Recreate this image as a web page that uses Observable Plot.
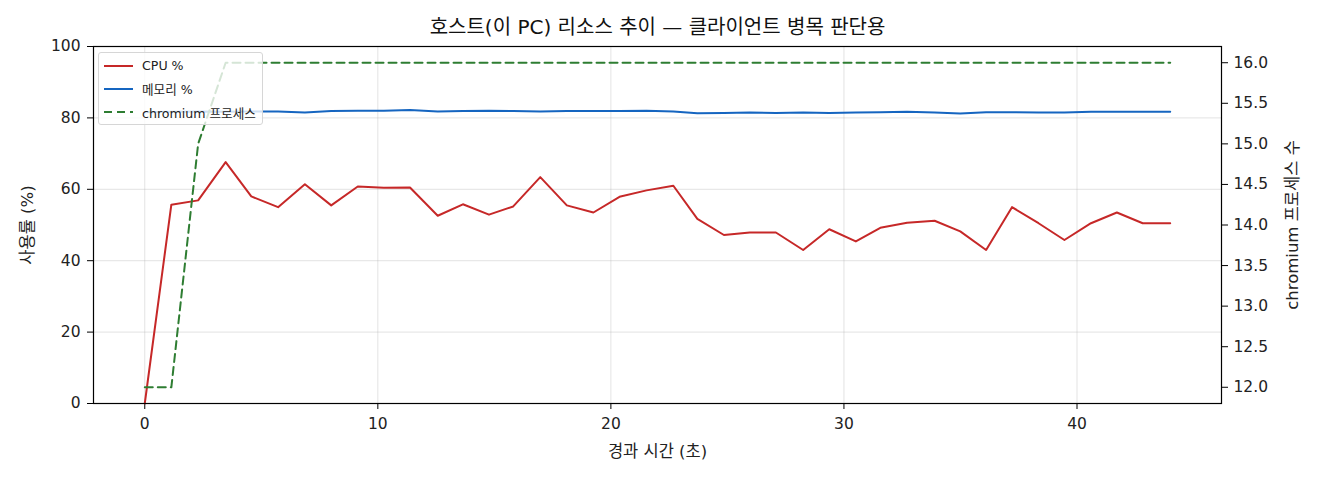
<!DOCTYPE html>
<html>
<head>
<meta charset="utf-8">
<script src="https://cdn.jsdelivr.net/npm/d3@7"></script>
<script src="https://cdn.jsdelivr.net/npm/@observablehq/plot@0.6"></script>
<style>
  body { margin: 0; background: #fff; }
  #wrap { position: relative; width: 1320px; height: 480px; font-family: "DejaVu Sans", "Noto Sans CJK KR", sans-serif; }
  #legend { position: absolute; left: 98px; top: 52px; width: 165px; height: 73px; box-sizing: border-box;
    background: rgba(255,255,255,0.8); border: 1px solid #d6d6d6; border-radius: 3px; padding: 1px 0 0 5px; }
  .row { display: flex; align-items: center; height: 23.3px; font-size: 12.6px; color: #222; }
  .row svg { margin-right: 9px; }
</style>
</head>
<body>
<div id="wrap"></div>
<script>
const title = "호스트(이 PC) 리소스 추이 — 클라이언트 병목 판단용";
const xLabel = "경과 시간 (초)";
const yLabel = "사용률 (%)";
const y2Label = "chromium 프로세스 수";
const seriesNames = ["CPU %", "메모리 %", "chromium 프로세스"];
const seriesColors = ["#c62828", "#1565c0", "#2e7d32"];

const times = [0, 1.14, 2.29, 3.47, 4.57, 5.72, 6.87, 8.0, 9.14, 10.26,
  11.38, 12.57, 13.65, 14.77, 15.81, 16.97, 18.11, 19.25, 20.37, 21.53,
  22.68, 23.71, 24.85, 25.96, 27.08, 28.25, 29.37, 30.51, 31.56, 32.71,
  33.89, 34.99, 36.10, 37.21, 38.35, 39.46, 40.60, 41.71, 42.82, 44.0];
const cpu = [0, 55.7, 56.9, 67.6, 58.0, 55.0, 61.4, 55.5, 60.8, 60.4,
  60.5, 52.6, 55.8, 52.9, 55.2, 63.4, 55.5, 53.5, 57.9, 59.7,
  61.0, 51.7, 47.2, 47.9, 47.9, 43.0, 48.8, 45.4, 49.2, 50.6,
  51.2, 48.2, 43.0, 55.0, 50.5, 45.8, 50.5, 53.5, 50.5, 50.5];
const mem = [81.6, 81.7, 81.8, 81.7, 81.8, 81.8, 81.5, 81.9, 82.0, 82.0,
  82.2, 81.8, 81.9, 82.0, 81.9, 81.8, 81.9, 81.9, 81.9, 82.0,
  81.8, 81.3, 81.4, 81.5, 81.4, 81.5, 81.4, 81.5, 81.6, 81.7,
  81.5, 81.2, 81.6, 81.6, 81.5, 81.5, 81.7, 81.7, 81.7, 81.7];
const chromium = [12, 12, 15, 16, 16, 16, 16, 16, 16, 16,
  16, 16, 16, 16, 16, 16, 16, 16, 16, 16,
  16, 16, 16, 16, 16, 16, 16, 16, 16, 16,
  16, 16, 16, 16, 16, 16, 16, 16, 16, 16];
const xTicks = [0, 10, 20, 30, 40];
const yTicks = [0, 20, 40, 60, 80, 100];
const y2Ticks = [12.0, 12.5, 13.0, 13.5, 14.0, 14.5, 15.0, 15.5, 16.0];

const xDomain = [-2.2, 46.2];
const yDomain = [0, 100];
const y2Domain = [11.8, 16.2];
const toLeft = c => (c - y2Domain[0]) / (y2Domain[1] - y2Domain[0]) * (yDomain[1] - yDomain[0]) + yDomain[0];
const toRight = v => (v - yDomain[0]) / (yDomain[1] - yDomain[0]) * (y2Domain[1] - y2Domain[0]) + y2Domain[0];

const rows = times.map((t, i) => ({t, cpu: cpu[i], mem: mem[i], chr: toLeft(chromium[i])}));

const font = "\"DejaVu Sans\", \"Noto Sans CJK KR\", sans-serif";

const chart = Plot.plot({
  width: 1320,
  height: 480,
  marginLeft: 93,
  marginRight: 99,
  marginTop: 46,
  marginBottom: 77,
  style: {fontFamily: font, fontSize: "15.5px", color: "#222", background: "#fff"},
  x: {domain: xDomain},
  y: {domain: yDomain},
  marks: [
    Plot.gridX(xTicks, {stroke: "#b0b0b0", strokeOpacity: 0.35, strokeWidth: 1}),
    Plot.gridY(yTicks, {stroke: "#b0b0b0", strokeOpacity: 0.35, strokeWidth: 1}),
    Plot.axisX({ticks: xTicks, tickSize: 6, tickPadding: 8, label: null, stroke: "#000"}),
    Plot.axisY({ticks: yTicks, tickSize: 6, tickPadding: 7, label: null, stroke: "#000"}),
    Plot.axisY({anchor: "right", ticks: y2Ticks.map(toLeft), tickSize: 6, tickPadding: 6, label: null,
      stroke: "#000", tickFormat: v => toRight(v).toFixed(1)}),
    Plot.line(rows, {x: "t", y: "cpu", stroke: seriesColors[0], strokeWidth: 2}),
    Plot.line(rows, {x: "t", y: "mem", stroke: seriesColors[1], strokeWidth: 2}),
    Plot.line(rows, {x: "t", y: "chr", stroke: seriesColors[2], strokeWidth: 2, strokeDasharray: "8,5"}),
    Plot.frame({stroke: "#000", strokeWidth: 1.2}),
    Plot.text([title], {frameAnchor: "top", dy: -19, lineAnchor: "middle", textAnchor: "middle", fontSize: 20, fill: "#111"}),
    Plot.text([xLabel], {frameAnchor: "bottom", dy: 48, lineAnchor: "middle", textAnchor: "middle", fontSize: 16.5, fill: "#222"}),
    Plot.text([yLabel], {frameAnchor: "left", dx: -66, rotate: -90, lineAnchor: "middle", textAnchor: "middle", fontSize: 16.5, fill: "#222"}),
    Plot.text([y2Label], {frameAnchor: "right", dx: 71, rotate: -90, lineAnchor: "middle", textAnchor: "middle", fontSize: 16.5, fill: "#222"})
  ]
});

const wrap = document.getElementById("wrap");
wrap.appendChild(chart);

const legend = document.createElement("div");
legend.id = "legend";
seriesNames.forEach((name, i) => {
  const row = document.createElement("div");
  row.className = "row";
  const dash = i === 2 ? ' stroke-dasharray="8,5"' : '';
  row.innerHTML = `<svg width="29" height="6"><line x1="0" y1="3" x2="29" y2="3" stroke="${seriesColors[i]}" stroke-width="2"${dash}/></svg><span>${name}</span>`;
  legend.appendChild(row);
});
wrap.appendChild(legend);
</script>
</body>
</html>
